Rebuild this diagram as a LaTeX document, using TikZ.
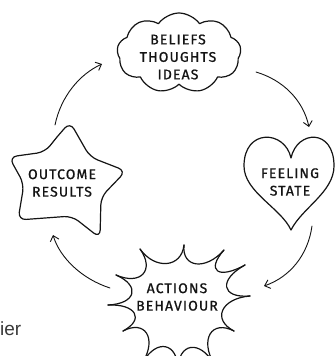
\documentclass[tikz,border=0pt]{standalone}
\usepackage{fontspec}
\setmainfont{Fira Sans}
\newfontfamily\capsfont[LetterSpace=8,FakeBold=0.9]{Fira Sans}
\newfontfamily\plainfont{Liberation Sans}
\usetikzlibrary{calc,shapes.symbols,arrows.meta}
\definecolor{ink}{HTML}{141414}
\definecolor{fadedtext}{HTML}{3A3A3A}
\begin{document}
\begin{tikzpicture}[x=1pt,y=-1pt,
  outline/.style={draw=ink,line width=1.2pt,line join=round,line cap=round},
  label/.style={text=ink,font=\capsfont\fontsize{14}{17.5}\selectfont,align=center,inner sep=0pt},
  cycleArrow/.style={draw=ink,line width=0.9pt,line cap=round,
    -{Straight Barb[length=5pt,width=9pt,line width=0.9pt]}}]
\fill[white] (0,0) rectangle (335,356);
\useasboundingbox (0,0) rectangle (335,356);

% thought cloud
\node[cloud,outline,cloud puffs=9,cloud puff arc=110,aspect=1.55,
  minimum width=124pt,minimum height=80pt,inner sep=0pt] (cloud) at (179,53) {};
\node[label] (beliefs) at (178,57) {BELIEFS\\THOUGHTS\\IDEAS};

% heart
\coordinate (hdip) at (291,158);
\coordinate (htip) at (291,230);
\draw[outline] (hdip) .. controls (297,130) and (334,128) .. (334,166)
  .. controls (334,192) and (302,208) .. (htip)
  .. controls (281,208) and (244,192) .. (244,166)
  .. controls (244,128) and (285,130) .. (hdip);
\node[label] (feeling) at (290,182) {FEELING\\STATE};

% star
\draw[outline,rounded corners=8pt] (57,137) -- (70,122) -- (90,157) -- (126,171)
  -- (101,197) -- (100,238) -- (72,216) -- (18,220) -- (24,184) -- (9,157)
  -- (45,152) -- (57,137);
\node[label] (outcome) at (62,183) {OUTCOME\\RESULTS};

% burst of spikes
\coordinate (bc) at (178,302);
\coordinate (s1) at (184,245);
\coordinate (s2) at (224,250);
\coordinate (s3) at (245,265);
\coordinate (s4) at (250,296);
\coordinate (s5) at (234,331);
\coordinate (s6) at (214,364);
\coordinate (s7) at (178,370);
\coordinate (s8) at (143,362);
\coordinate (s9) at (123,331);
\coordinate (s10) at (108,305);
\coordinate (s11) at (116,275);
\coordinate (s12) at (140,249);
\foreach \p/\q in {s1/s2,s2/s3,s3/s4,s4/s5,s5/s6,s6/s7,s7/s8,s8/s9,s9/s10,s10/s11,s11/s12,s12/s1}
  \draw[outline] (\p) .. controls ($(\p)!0.4!(bc)$) and ($(\q)!0.4!(bc)$) .. (\q);
\node[label] (actions) at (177,297) {ACTIONS\\BEHAVIOUR};

% cycle connectors
\coordinate (a1s) at (55,125);  \coordinate (a1e) at (102,64);
\coordinate (a2s) at (256,72);  \coordinate (a2e) at (309,127);
\coordinate (a3s) at (312,226); \coordinate (a3e) at (264,286);
\coordinate (a4s) at (110,288); \coordinate (a4e) at (53,235);
\draw[cycleArrow] (a1s) .. controls (61,96) and (80,74) .. (a1e);
\draw[cycleArrow] (a2s) .. controls (283,80) and (303,100) .. (a2e);
\draw[cycleArrow] (a3s) .. controls (308,255) and (290,277) .. (a3e);
\draw[cycleArrow] (a4s) .. controls (82,279) and (60,258) .. (a4e);

% cut-off caption fragment
\node[anchor=base west,inner sep=0pt,text=fadedtext,
  font=\plainfont\fontsize{19}{22}\selectfont] (fragment) at (0,335) {ier};
\end{tikzpicture}
\end{document}
